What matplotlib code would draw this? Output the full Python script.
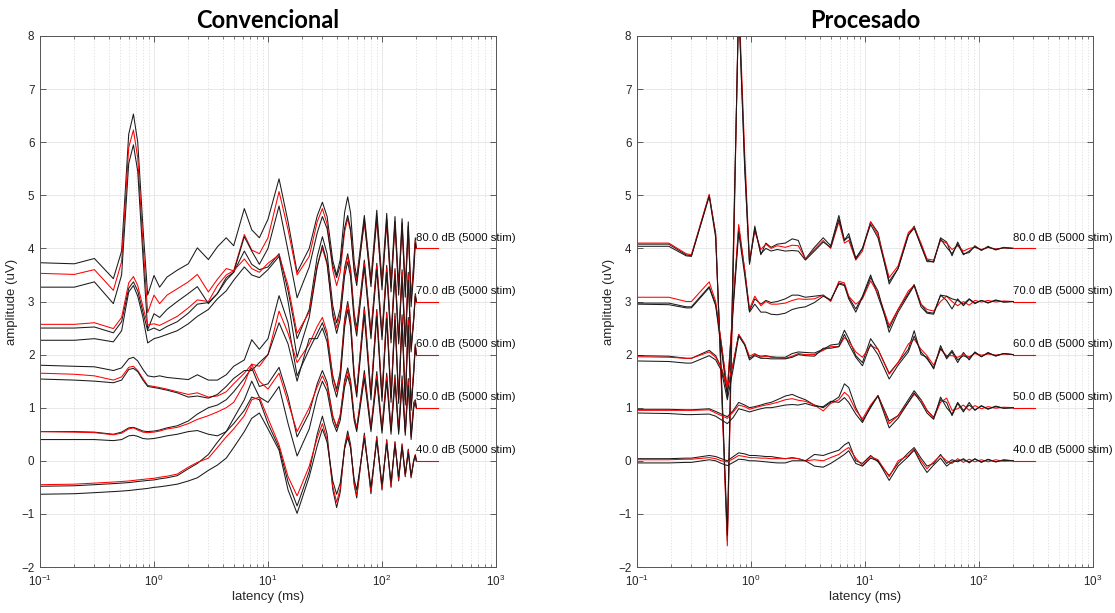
import numpy as np
import matplotlib
matplotlib.use('Agg')
import matplotlib.pyplot as plt
from matplotlib.ticker import LogLocator, NullFormatter

# levels and their vertical offsets (uV)
levels = ['80.0', '70.0', '60.0', '50.0', '40.0']
offsets = [4, 3, 2, 1, 0]
n_stim = 5000
flat_end = 310   # ms, end of the red reference line

# ---------------- Convencional ----------------
lat_conv = [0.1, 0.2, 0.3, 0.44, 0.52, 0.6, 0.66, 0.72, 0.8, 0.88,
            1.0, 1.12, 1.3, 1.6, 2.0, 2.4, 3.0, 3.6, 4.3, 5.0,
            6.2, 7.2, 8.4, 10, 12.5, 15, 18, 23,
            27, 30, 33, 37, 40, 43, 47, 50, 53, 57, 60,
            70, 80, 90, 100, 110, 120, 130, 140, 150, 160,
            170, 180, 190, 196, 200]

conv_80_a = [3.73, 3.71, 3.81, 3.43, 3.95, 6.15, 6.53, 6.0, 4.4, 3.12,
             3.49, 3.27, 3.46, 3.59, 3.71, 4.01, 3.79, 4.03, 4.2, 4.05,
             4.75, 4.35, 4.2, 4.55, 5.31, 4.5, 3.55, 4.0,
             4.61, 4.87, 4.6, 3.77, 3.5, 3.79, 4.68, 4.97, 4.67, 3.75, 3.45,
             4.62, 3.42, 4.72, 3.38, 4.66, 3.35, 4.6, 3.3, 4.56, 3.28,
             4.5, 3.05, 3.75, 4.2, 4.0]
conv_80_b = [3.53, 3.51, 3.6, 3.21, 3.75, 5.9, 6.23, 5.7, 4.1, 2.79,
             3.12, 2.96, 3.12, 3.24, 3.37, 3.51, 3.18, 3.42, 3.62, 3.58,
             4.26, 3.97, 3.9, 4.2, 5.07, 4.35, 3.5, 3.85,
             4.5, 4.75, 4.46, 3.59, 3.3, 3.55, 4.31, 4.56, 4.32, 3.62, 3.38,
             4.48, 3.35, 4.52, 3.3, 4.46, 3.27, 4.42, 3.22, 4.4, 3.2,
             4.35, 3.0, 3.65, 4.15, 4.0]
conv_80_c = [3.27, 3.27, 3.37, 2.96, 3.5, 5.6, 5.95, 5.45, 3.85, 2.47,
             2.77, 2.7, 2.85, 3.0, 3.15, 3.28, 2.96, 3.15, 3.45, 3.55,
             4.22, 3.95, 3.7, 4.0, 4.8, 3.95, 3.07, 3.65,
             4.29, 4.6, 4.37, 3.68, 3.45, 3.68, 4.39, 4.62, 4.36, 3.56, 3.3,
             4.55, 3.28, 4.6, 3.22, 4.55, 3.18, 4.5, 3.12, 4.48, 3.08,
             4.42, 2.9, 3.55, 4.1, 4.0]

conv_70_a = [2.5, 2.5, 2.52, 2.41, 2.62, 3.25, 3.37, 3.2, 2.8, 2.45,
             2.5, 2.45, 2.53, 2.62, 2.78, 2.95, 2.98, 3.15, 3.4, 3.55,
             3.95, 3.7, 3.6, 3.65, 3.9, 3.2, 2.3, 2.85,
             3.84, 4.22, 3.9, 2.92, 2.6, 2.86, 3.64, 3.9, 3.62, 2.78, 2.5,
             3.78, 2.42, 3.72, 2.4, 3.68, 2.35, 3.62, 2.3, 3.6, 2.25,
             3.55, 2.15, 2.7, 3.15, 3.0]
conv_70_b = [2.57, 2.57, 2.6, 2.49, 2.7, 3.35, 3.47, 3.3, 2.9, 2.56,
             2.58, 2.55, 2.62, 2.72, 2.88, 3.03, 3.0, 3.3, 3.5, 3.58,
             3.8, 3.62, 3.55, 3.72, 3.88, 3.3, 2.4, 2.8,
             3.68, 4.0, 3.7, 2.8, 2.5, 2.77, 3.58, 3.85, 3.57, 2.73, 2.45,
             3.72, 2.4, 3.68, 2.35, 3.62, 2.3, 3.58, 2.25, 3.55, 2.2,
             3.5, 2.1, 2.7, 3.12, 3.0]
conv_70_c = [2.27, 2.27, 2.3, 2.24, 2.45, 3.18, 3.3, 3.1, 2.7, 2.22,
             2.3, 2.33, 2.38, 2.45, 2.58, 2.72, 2.85, 3.05, 3.2, 3.4,
             3.65, 3.5, 3.45, 3.6, 3.85, 3.0, 1.95, 2.7,
             3.64, 4.06, 3.73, 2.73, 2.4, 2.67, 3.48, 3.75, 3.47, 2.63, 2.35,
             3.65, 2.3, 3.6, 2.28, 3.55, 2.22, 3.5, 2.2, 3.45, 2.15,
             3.4, 2.05, 2.65, 3.1, 3.0]

conv_60_a = [1.8, 1.78, 1.77, 1.7, 1.75, 1.92, 1.95, 1.88, 1.72, 1.6,
             1.58, 1.6, 1.57, 1.55, 1.53, 1.62, 1.52, 1.52, 1.62, 1.78,
             1.9, 2.28, 2.1, 2.3, 3.11, 2.6, 1.6, 2.1,
             2.4, 2.6, 2.35, 1.6, 1.35, 1.68, 2.67, 3.0, 2.66, 1.64, 1.3,
             2.9, 1.25, 2.85, 1.22, 2.8, 1.2, 2.78, 1.18, 2.75, 1.15,
             2.7, 1.05, 1.7, 2.2, 2.0]
conv_60_b = [1.65, 1.63, 1.6, 1.52, 1.58, 1.76, 1.78, 1.7, 1.55, 1.42,
             1.4, 1.38, 1.35, 1.3, 1.25, 1.28, 1.2, 1.22, 1.3, 1.45,
             1.65, 1.82, 1.78, 2.0, 2.82, 2.4, 1.85, 2.2,
             2.53, 2.7, 2.42, 1.58, 1.3, 1.63, 2.62, 2.95, 2.62, 1.61, 1.28,
             2.85, 1.25, 2.8, 1.2, 2.78, 1.18, 2.72, 1.15, 2.7, 1.12,
             2.65, 1.0, 1.75, 2.18, 2.0]
conv_60_c = [1.54, 1.52, 1.5, 1.47, 1.52, 1.72, 1.74, 1.68, 1.52, 1.4,
             1.38, 1.36, 1.33, 1.28, 1.2, 1.22, 1.18, 1.25, 1.4, 1.55,
             1.7, 1.7, 1.85, 2.0, 2.6, 2.2, 1.5, 2.3,
             2.3, 2.5, 2.24, 1.46, 1.2, 1.53, 2.52, 2.85, 2.52, 1.53, 1.2,
             2.75, 1.15, 2.72, 1.12, 2.68, 1.1, 2.65, 1.08, 2.6, 1.05,
             2.55, 0.95, 1.65, 2.15, 2.0]

conv_50_a = [0.55, 0.55, 0.54, 0.5, 0.54, 0.62, 0.63, 0.6, 0.56, 0.55,
             0.56, 0.58, 0.62, 0.66, 0.75, 0.88, 1.0, 1.05, 1.15, 1.3,
             1.55, 1.75, 1.4, 1.45, 1.76, 1.2, 0.45, 0.9,
             1.45, 1.7, 1.48, 0.84, 0.62, 0.85, 1.52, 1.75, 1.52, 0.83, 0.6,
             1.7, 0.62, 1.68, 0.6, 1.65, 0.6, 1.62, 0.58, 1.6, 0.56,
             1.55, 0.5, 1.1, 1.15, 1.0]
conv_50_b = [0.55, 0.54, 0.53, 0.49, 0.52, 0.6, 0.62, 0.58, 0.54, 0.53,
             0.54, 0.56, 0.6, 0.63, 0.7, 0.78, 0.85, 0.92, 1.0, 1.1,
             1.45, 1.82, 1.5, 1.35, 1.65, 1.1, 0.55, 1.0,
             1.39, 1.6, 1.41, 0.84, 0.65, 0.86, 1.47, 1.68, 1.47, 0.83, 0.62,
             1.62, 0.6, 1.6, 0.58, 1.58, 0.56, 1.55, 0.55, 1.52, 0.54,
             1.5, 0.45, 1.05, 1.12, 1.0]
conv_50_c = [0.4, 0.4, 0.4, 0.38, 0.4, 0.47, 0.48, 0.46, 0.42, 0.41,
             0.42, 0.44, 0.47, 0.5, 0.55, 0.57, 0.5, 0.47, 0.55, 0.8,
             1.15, 1.5, 1.2, 1.1, 1.4, 0.7, 0.09, 0.6,
             1.22, 1.5, 1.31, 0.74, 0.55, 0.76, 1.39, 1.6, 1.39, 0.76, 0.55,
             1.55, 0.55, 1.52, 0.52, 1.5, 0.5, 1.48, 0.5, 1.45, 0.48,
             1.42, 0.4, 1.0, 1.1, 1.0]

conv_40_a = [-0.48, -0.47, -0.45, -0.43, -0.42, -0.41, -0.4, -0.39, -0.38, -0.37,
             -0.36, -0.34, -0.32, -0.28, -0.15, -0.05, 0.12, 0.35, 0.55, 0.7,
             0.95, 1.2, 1.15, 0.7, 0.25, -0.4, -0.85, -0.2,
             0.5, 0.84, 0.5, -0.54, -0.88, -0.59, 0.27, 0.56, 0.31, -0.45, -0.7,
             0.52, -0.62, 0.46, -0.55, 0.4, -0.5, 0.36, -0.38, 0.32, -0.3,
             0.22, -0.32, 0.0, 0.1, 0.0]
conv_40_b = [-0.45, -0.44, -0.42, -0.4, -0.39, -0.38, -0.37, -0.36, -0.35, -0.34,
             -0.33, -0.31, -0.29, -0.25, -0.12, -0.03, 0.05, 0.25, 0.45, 0.6,
             0.85, 1.15, 1.2, 0.8, 0.3, -0.3, -0.66, -0.1,
             0.43, 0.7, 0.4, -0.48, -0.78, -0.52, 0.24, 0.5, 0.27, -0.42, -0.65,
             0.48, -0.58, 0.44, -0.52, 0.38, -0.48, 0.35, -0.35, 0.3, -0.28,
             0.2, -0.3, 0.02, 0.12, 0.0]
conv_40_c = [-0.63, -0.62, -0.6, -0.58, -0.57, -0.56, -0.55, -0.54, -0.53, -0.52,
             -0.5, -0.49, -0.47, -0.44, -0.38, -0.32, -0.18, -0.08, 0.05, 0.25,
             0.55, 0.8, 0.9, 0.6, 0.2, -0.55, -0.99, -0.3,
             0.28, 0.6, 0.35, -0.38, -0.63, -0.42, 0.23, 0.44, 0.24, -0.35, -0.55,
             0.42, -0.5, 0.38, -0.45, 0.32, -0.4, 0.3, -0.3, 0.26, -0.25,
             0.15, -0.28, 0.0, 0.1, 0.0]

# ---------------- Procesado ----------------
lat_proc = [0.1, 0.19, 0.27, 0.3, 0.43, 0.49, 0.55, 0.62, 0.7, 0.78,
            0.88, 0.97, 1.08, 1.22, 1.35, 1.5, 1.7, 2.0, 2.3, 2.6,
            3.0, 3.6, 4.3, 5.0, 5.9, 6.6, 7.2, 8.3, 9.5, 11.2,
            13, 16.3, 19.5, 24, 27, 31, 35, 40, 46, 52,
            58, 65, 73, 82, 92, 105, 120, 140, 165, 200]

proc_80_a = [4.08, 4.08, 3.88, 3.86, 5.0, 4.28, 1.5, -1.5, 4.0, 8.6,
             5.5, 3.72, 4.42, 3.88, 4.1, 4.02, 4.08, 4.1, 4.18, 4.15,
             3.8, 4.02, 4.2, 4.05, 4.62, 4.15, 4.28, 3.82, 4.0, 4.5,
             4.3, 3.33, 3.62, 4.25, 4.42, 4.05, 3.78, 3.74, 4.2, 4.12,
             3.86, 4.12, 3.9, 3.92, 4.05, 3.96, 4.04, 3.97, 4.02, 4.0]
proc_80_b = [4.1, 4.1, 3.9, 3.88, 5.02, 4.25, 1.4, -1.6, 3.6, 8.8,
             5.8, 3.78, 4.32, 3.98, 4.08, 4.0, 4.05, 4.02, 4.06, 4.05,
             3.8, 3.98, 4.15, 4.0, 4.5, 4.1, 4.15, 3.78, 3.95, 4.5,
             4.25, 3.45, 3.67, 4.3, 4.4, 4.1, 3.8, 3.78, 4.15, 4.1,
             3.98, 4.05, 3.95, 4.0, 4.02, 3.98, 4.02, 3.99, 4.01, 4.0]
proc_80_c = [4.04, 4.04, 3.86, 3.85, 4.98, 4.2, 1.6, -1.4, 3.9, 8.6,
             5.6, 3.7, 4.38, 3.9, 4.0, 3.95, 3.98, 3.95, 3.96, 3.95,
             3.78, 3.95, 4.12, 4.02, 4.55, 4.15, 4.22, 3.8, 4.0, 4.45,
             4.2, 3.38, 3.62, 4.25, 4.38, 4.05, 3.75, 3.75, 4.18, 4.02,
             3.9, 4.08, 3.88, 3.95, 4.03, 3.97, 4.02, 3.98, 4.01, 4.0]

proc_70_a = [2.97, 2.97, 2.9, 2.9, 3.28, 2.95, 2.2, 1.3, 3.0, 4.4,
             3.6, 2.82, 3.05, 2.95, 3.02, 2.98, 3.0, 3.05, 3.12, 3.12,
             3.08, 3.1, 3.12, 3.02, 3.35, 3.32, 3.08, 2.86, 3.1, 3.5,
             3.1, 2.5, 2.85, 3.15, 3.32, 2.95, 2.8, 2.78, 3.12, 3.02,
             2.86, 3.05, 2.92, 3.04, 2.96, 3.02, 2.97, 3.03, 2.99, 3.0]
proc_70_b = [3.08, 3.08, 3.0, 3.0, 3.37, 3.0, 2.2, 1.35, 3.0, 4.45,
             3.6, 2.86, 3.1, 2.92, 3.0, 2.95, 2.95, 2.97, 3.02, 3.05,
             3.04, 3.05, 3.12, 3.0, 3.38, 3.35, 3.1, 2.95, 3.05, 3.39,
             3.15, 2.55, 2.85, 3.2, 3.3, 2.95, 2.85, 2.82, 3.0, 3.1,
             3.0, 2.92, 3.0, 2.93, 3.02, 2.99, 3.02, 2.99, 3.01, 3.0]
proc_70_c = [2.95, 2.94, 2.88, 2.88, 3.26, 2.92, 2.1, 1.2, 2.9, 4.3,
             3.5, 2.8, 2.95, 2.8, 2.8, 2.76, 2.75, 2.78, 2.85, 2.88,
             2.9, 2.98, 3.1, 3.03, 3.33, 3.3, 3.05, 2.8, 3.08, 3.45,
             3.2, 2.42, 2.8, 3.12, 3.3, 2.9, 2.78, 2.76, 3.12, 3.1,
             3.05, 3.02, 2.95, 3.05, 2.97, 3.02, 2.98, 3.02, 2.99, 3.0]

proc_60_a = [1.98, 1.97, 1.93, 1.93, 2.08, 1.98, 1.75, 1.3, 1.85, 2.38,
             2.2, 1.93, 2.0, 1.97, 1.98, 1.96, 1.95, 1.95, 2.02, 2.05,
             2.04, 2.03, 2.1, 2.18, 2.2, 2.46, 2.3, 1.98, 1.85, 2.3,
             2.1, 1.65, 1.85, 2.1, 2.45, 2.0, 1.95, 1.73, 2.17, 1.92,
             2.05, 1.85, 2.04, 1.9, 2.05, 1.96, 2.04, 1.97, 2.02, 2.0]
proc_60_b = [1.96, 1.95, 1.93, 1.93, 2.05, 1.95, 1.75, 1.38, 1.85, 2.38,
             2.2, 1.97, 2.02, 1.95, 1.97, 1.95, 1.94, 1.93, 1.97, 2.02,
             2.0, 2.0, 2.08, 2.15, 2.15, 2.32, 2.25, 2.05, 1.95, 2.17,
             2.1, 1.63, 1.85, 2.2, 2.29, 2.1, 1.98, 1.8, 2.1, 1.98,
             1.98, 1.95, 2.0, 1.96, 2.02, 1.99, 2.01, 1.99, 2.01, 2.0]
proc_60_c = [1.88, 1.87, 1.84, 1.84, 1.98, 1.9, 1.7, 1.15, 1.75, 2.35,
             2.18, 1.9, 1.98, 1.93, 1.93, 1.92, 1.92, 1.92, 1.95, 2.0,
             1.98, 1.97, 2.12, 2.12, 2.15, 2.38, 2.2, 1.95, 1.79, 2.2,
             2.0, 1.54, 1.8, 2.05, 2.35, 2.05, 1.92, 1.75, 2.12, 1.95,
             2.08, 1.9, 1.98, 1.93, 2.04, 1.96, 2.03, 1.98, 2.02, 2.0]

proc_50_a = [0.97, 0.97, 0.96, 0.96, 0.98, 0.93, 0.88, 0.83, 0.95, 1.1,
             1.05, 1.0, 1.02, 1.05, 1.08, 1.1, 1.15, 1.22, 1.25, 1.2,
             1.15, 1.05, 1.0, 1.1, 1.2, 1.45, 1.38, 1.0, 0.75, 1.0,
             1.23, 0.75, 0.85, 1.15, 1.32, 1.15, 0.95, 0.82, 1.15, 1.1,
             0.85, 1.08, 0.92, 1.1, 0.95, 1.04, 0.97, 1.03, 0.99, 1.0]
proc_50_b = [0.95, 0.95, 0.95, 0.95, 0.96, 0.9, 0.85, 0.8, 0.92, 1.05,
             1.02, 0.97, 1.0, 1.03, 1.05, 1.07, 1.1, 1.15, 1.17, 1.14,
             1.12, 1.05, 0.94, 1.08, 1.15, 1.29, 1.22, 0.95, 0.79, 1.05,
             1.23, 0.7, 0.85, 1.1, 1.25, 1.15, 0.95, 0.8, 1.1, 1.18,
             0.95, 0.98, 1.05, 0.95, 1.04, 0.98, 1.02, 0.99, 1.01, 1.0]
proc_50_c = [0.9, 0.89, 0.87, 0.87, 0.88, 0.84, 0.77, 0.7, 0.82, 0.98,
             0.95, 0.92, 0.95, 0.98, 1.0, 1.0, 1.02, 1.05, 1.06, 1.05,
             1.08, 1.03, 1.02, 1.12, 1.1, 1.19, 1.1, 0.88, 0.72, 1.02,
             1.22, 0.62, 0.8, 1.1, 1.28, 1.1, 0.9, 0.78, 1.2, 1.0,
             0.88, 1.1, 0.95, 1.05, 0.96, 1.03, 0.98, 1.02, 0.99, 1.0]

proc_40_a = [0.04, 0.04, 0.05, 0.05, 0.1, 0.08, 0.04, 0.0, 0.08, 0.15,
             0.13, 0.1, 0.1, 0.09, 0.08, 0.08, 0.06, 0.04, 0.06, 0.04,
             0.0, 0.12, 0.1, 0.15, 0.2, 0.3, 0.35, 0.0, -0.05, 0.1,
             -0.02, -0.28, -0.05, 0.15, 0.25, 0.05, -0.1, -0.05, 0.12, -0.05,
             0.02, -0.02, 0.04, -0.04, 0.04, -0.03, 0.03, -0.02, 0.02, 0.0]
proc_40_b = [0.02, 0.02, 0.03, 0.03, 0.06, 0.04, 0.0, -0.02, 0.04, 0.1,
             0.08, 0.06, 0.06, 0.05, 0.05, 0.04, 0.04, 0.04, 0.05, 0.04,
             0.0, 0.02, 0.0, 0.06, 0.12, 0.2, 0.25, 0.05, -0.09, 0.08,
             0.02, -0.3, 0.0, 0.1, 0.22, 0.0, -0.15, -0.02, 0.1, 0.0,
             -0.05, 0.04, -0.03, 0.03, -0.02, 0.02, -0.02, 0.02, -0.01, 0.0]
proc_40_c = [-0.04, -0.04, -0.03, -0.03, 0.02, 0.0, -0.05, -0.09, -0.03, 0.03,
             0.02, 0.0, 0.0, -0.01, -0.02, -0.03, -0.04, -0.04, 0.0, 0.0,
             0.0, -0.1, -0.12, -0.05, 0.05, 0.12, 0.19, -0.05, -0.1, 0.05,
             0.0, -0.37, -0.1, 0.08, 0.2, -0.05, -0.22, -0.08, 0.05, -0.1,
             -0.02, 0.0, 0.02, -0.02, 0.03, -0.02, 0.02, -0.02, 0.01, 0.0]

conv_groups = [(conv_80_a, conv_80_b, conv_80_c), (conv_70_a, conv_70_b, conv_70_c),
               (conv_60_a, conv_60_b, conv_60_c), (conv_50_a, conv_50_b, conv_50_c),
               (conv_40_a, conv_40_b, conv_40_c)]
proc_groups = [(proc_80_a, proc_80_b, proc_80_c), (proc_70_a, proc_70_b, proc_70_c),
               (proc_60_a, proc_60_b, proc_60_c), (proc_50_a, proc_50_b, proc_50_c),
               (proc_40_a, proc_40_b, proc_40_c)]

plt.rcParams['font.family'] = ['Liberation Sans', 'DejaVu Sans']
plt.rcParams['mathtext.default'] = 'regular'


def draw_panel(ax, lat, groups, title):
    for (a, b, c), off, lev in zip(groups, offsets, levels):
        ax.plot(lat, a, color='#1a1a1a', lw=0.75)
        ax.plot(lat, b, color='red', lw=0.75)
        ax.plot(lat, c, color='#1a1a1a', lw=0.75)
        ax.plot([lat[-1], flat_end], [off, off], color='red', lw=0.8)
        ax.text(lat[-1], off + 0.2, f'{lev} dB ({n_stim} stim)',
                fontsize=8.2, ha='left', va='center', color='#111111')

    ax.set_xscale('log')
    ax.set_xlim(0.1, 1000)
    ax.set_ylim(-2, 8)
    ax.set_yticks(range(-2, 9))
    ax.xaxis.set_minor_locator(LogLocator(base=10, subs=np.arange(2, 10), numticks=20))
    ax.xaxis.set_minor_formatter(NullFormatter())
    ax.grid(which='major', color='#e4e4e4', lw=0.6)
    ax.grid(which='minor', axis='x', color='#dedede', lw=0.6, ls=(0, (1.5, 2)))
    ax.set_axisbelow(True)
    ax.tick_params(which='both', direction='in', top=True, right=True,
                   color='#444444', labelcolor='#262626', labelsize=8.4)
    ax.tick_params(which='major', length=4, width=0.6)
    ax.tick_params(which='minor', length=2, width=0.5)
    ax.tick_params(axis='x', which='major', pad=5)
    ax.tick_params(axis='y', which='major', pad=4)
    for s in ax.spines.values():
        s.set_color('#555555')
        s.set_linewidth(0.7)
    ax.set_xlabel('latency (ms)', fontsize=9.5, color='#262626', labelpad=1)
    ax.set_ylabel('amplitude (uV)', fontsize=9.5, color='#262626', labelpad=2)
    ax.set_title(title, fontsize=17, fontweight='bold', family='Lato', pad=6)


fig = plt.figure(figsize=(11.15, 6.13), dpi=100)
ax1 = fig.add_axes([40 / 1115, 46 / 613, 456 / 1115, 531 / 613])
ax2 = fig.add_axes([637 / 1115, 46 / 613, 456 / 1115, 531 / 613])

draw_panel(ax1, lat_conv, conv_groups, 'Convencional')
draw_panel(ax2, lat_proc, proc_groups, 'Procesado')

fig.savefig('out.png', dpi=100)
